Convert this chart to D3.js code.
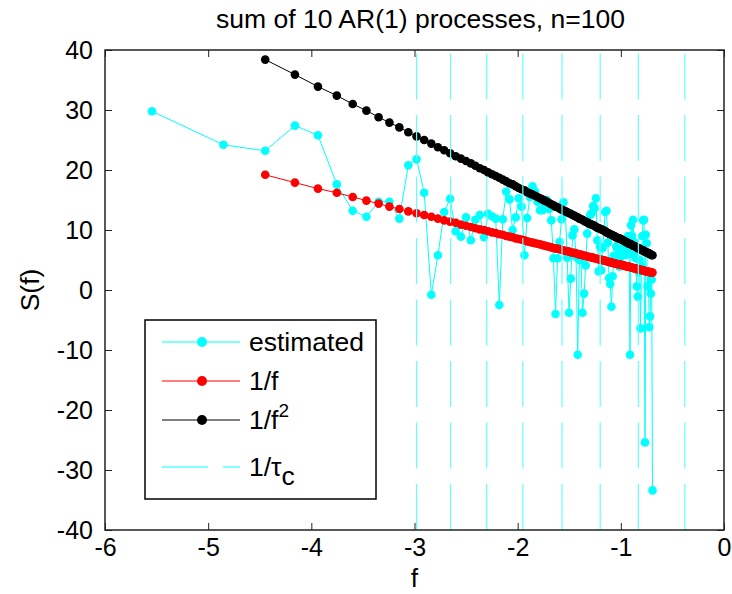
<!DOCTYPE html>
<html>
<head>
<meta charset="utf-8">
<script src="https://cdn.jsdelivr.net/npm/d3@7"></script>
<style>
  body { margin: 0; background: #fff; }
  text { font-family: "Liberation Sans", Arial, Helvetica, sans-serif; }
</style>
</head>
<body>
<div id="chart-area"></div>
<script>
// log frequency, k = 1..128
var freq = [-5.545,-4.852,-4.447,-4.159,-3.936,-3.753,-3.599,-3.466,-3.348,-3.243,
  -3.147,-3.060,-2.980,-2.906,-2.837,-2.773,-2.712,-2.655,-2.601,-2.550,
  -2.501,-2.454,-2.410,-2.367,-2.326,-2.287,-2.249,-2.213,-2.178,-2.144,
  -2.111,-2.079,-2.049,-2.019,-1.990,-1.962,-1.934,-1.908,-1.882,-1.856,
  -1.832,-1.808,-1.784,-1.761,-1.739,-1.717,-1.695,-1.674,-1.653,-1.633,
  -1.613,-1.594,-1.575,-1.556,-1.538,-1.520,-1.502,-1.485,-1.468,-1.451,
  -1.434,-1.418,-1.402,-1.386,-1.371,-1.356,-1.341,-1.326,-1.311,-1.297,
  -1.283,-1.269,-1.255,-1.241,-1.228,-1.215,-1.201,-1.189,-1.176,-1.163,
  -1.151,-1.139,-1.126,-1.114,-1.103,-1.091,-1.079,-1.068,-1.057,-1.045,
  -1.034,-1.023,-1.013,-1.002,-0.991,-0.981,-0.971,-0.960,-0.950,-0.940,
  -0.930,-0.920,-0.911,-0.901,-0.891,-0.882,-0.872,-0.863,-0.854,-0.845,
  -0.836,-0.827,-0.818,-0.809,-0.800,-0.792,-0.783,-0.775,-0.766,-0.758,
  -0.749,-0.741,-0.733,-0.725,-0.717,-0.709,-0.701,-0.693];

// estimated spectrum (all 128 points)
var estimated = [29.8,24.2,23.2,27.4,25.8,17.6,13.2,12.2,14.7,14.7,
  11.9,20.8,21.8,16.2,-0.8,5.8,13.0,15.2,9.8,8.9,
  12.1,8.3,11.7,12.5,8.8,12.7,12.3,11.9,-2.5,11.8,
  16.4,15.1,10.0,12.1,15.3,13.9,5.8,12.0,15.5,17.3,
  16.4,14.7,13.3,13.3,14.5,15.0,13.5,11.6,5.3,-4.0,
  5.3,8.0,11.8,14.6,13.0,5.4,-3.8,1.9,9.1,10.1,
  5.5,-10.8,5.0,5.0,-3.8,-0.6,4.1,9.4,11.0,12.5,
  12.8,14.0,13.6,15.3,8.3,3.1,7.2,3.3,7.0,10.0,
  13.0,13.2,7.9,2.0,1.0,-2.8,2.3,5.7,9.0,7.2,
  7.0,6.0,3.9,5.5,4.2,7.0,6.0,5.8,8.0,7.0,
  9.0,6.0,-10.8,10.8,9.0,11.7,8.0,6.0,5.3,0.6,
  -1.1,3.0,5.0,-6.4,4.0,9.0,11.6,11.7,-25.4,9.2,
  7.8,0.6,3.0,-6.2,-4.4,-0.6,1.7,-33.4];

// 1/f (from k = 3)
var invF = [19.2,17.9,16.9,16.2,15.5,14.9,14.4,13.9,13.5,13.1,
  12.8,12.5,12.2,11.9,11.6,11.4,11.2,10.9,10.7,10.5,
  10.3,10.1,10.0,9.8,9.6,9.5,9.3,9.2,9.0,8.9,
  8.8,8.6,8.5,8.4,8.3,8.1,8.0,7.9,7.8,7.7,
  7.6,7.5,7.4,7.3,7.2,7.1,7.0,6.9,6.9,6.8,
  6.7,6.6,6.5,6.5,6.4,6.3,6.2,6.2,6.1,6.0,
  5.9,5.9,5.8,5.7,5.7,5.6,5.5,5.5,5.4,5.4,
  5.3,5.2,5.2,5.1,5.1,5.0,5.0,4.9,4.9,4.8,
  4.7,4.7,4.6,4.6,4.5,4.5,4.4,4.4,4.3,4.3,
  4.3,4.2,4.2,4.1,4.1,4.0,4.0,3.9,3.9,3.9,
  3.8,3.8,3.7,3.7,3.6,3.6,3.6,3.5,3.5,3.4,
  3.4,3.4,3.3,3.3,3.3,3.2,3.2,3.1,3.1,3.1,
  3.0,3.0,3.0,2.9,2.9,2.9];

// 1/f^2 (from k = 3)
var invF2 = [38.4,35.9,33.9,32.4,31.0,29.9,28.8,27.9,27.1,26.3,
  25.6,25.0,24.4,23.8,23.3,22.8,22.3,21.9,21.5,21.1,
  20.7,20.3,20.0,19.6,19.3,19.0,18.7,18.4,18.1,17.8,
  17.6,17.3,17.0,16.8,16.6,16.3,16.1,15.9,15.7,15.5,
  15.3,15.1,14.9,14.7,14.5,14.3,14.1,13.9,13.8,13.6,
  13.4,13.3,13.1,13.0,12.8,12.7,12.5,12.4,12.2,12.1,
  11.9,11.8,11.7,11.5,11.4,11.3,11.1,11.0,10.9,10.8,
  10.7,10.5,10.4,10.3,10.2,10.1,10.0,9.9,9.8,9.6,
  9.5,9.4,9.3,9.2,9.1,9.0,8.9,8.8,8.7,8.6,
  8.6,8.5,8.4,8.3,8.2,8.1,8.0,7.9,7.8,7.7,
  7.7,7.6,7.5,7.4,7.3,7.3,7.2,7.1,7.0,6.9,
  6.9,6.8,6.7,6.6,6.6,6.5,6.4,6.3,6.3,6.2,
  6.1,6.1,6.0,5.9,5.8,5.8];

// 1/tau_c lines
var tauLines = [-2.98,-2.65,-2.30,-1.95,-1.57,-1.20,-0.83,-0.38];

var xTicks = [-6,-5,-4,-3,-2,-1,0];
var yTicks = [-40,-30,-20,-10,0,10,20,30,40];

var legendItems = ["estimated", "1/f", "1/f2", "1/tau"];

var W = 732, H = 594;
var margin = {top: 50, right: 8, bottom: 64, left: 105},
    width = W - margin.left - margin.right,
    height = H - margin.top - margin.bottom;

var svg = d3.select("#chart-area").append("svg")
    .attr("width", W)
    .attr("height", H);

var g = svg.append("g")
    .attr("transform", "translate(" + margin.left + "," + margin.top + ")");

var x = d3.scaleLinear().domain([-6, 0]).range([0, width]);
var y = d3.scaleLinear().domain([-40, 40]).range([height, 0]);

var fmt = function(d){ return String(d); };
var tickFont = 25;
var textFont = 26.5;

// axes, ticks point inwards like matlab
var xAxis = g.append("g")
    .attr("transform", "translate(0," + height + ")")
    .call(d3.axisBottom(x).tickValues(xTicks).tickFormat(fmt).tickSizeInner(-7).tickSizeOuter(0).tickPadding(8));
var xAxisTop = g.append("g")
    .call(d3.axisTop(x).tickValues(xTicks).tickFormat("").tickSizeInner(-7).tickSizeOuter(0));
var yAxis = g.append("g")
    .call(d3.axisLeft(y).tickValues(yTicks).tickFormat(fmt).tickSizeInner(-7).tickSizeOuter(0).tickPadding(12));
var yAxisRight = g.append("g")
    .attr("transform", "translate(" + width + ",0)")
    .call(d3.axisRight(y).tickValues(yTicks).tickFormat("").tickSizeInner(-7).tickSizeOuter(0));

g.selectAll(".domain").remove();
g.selectAll(".tick line").attr("stroke", "#222");
g.selectAll(".tick text")
    .attr("font-size", tickFont)
    .attr("fill", "#000")
    .attr("font-family", "'Liberation Sans', Arial, sans-serif");

var line = d3.line()
    .x(function(d){ return x(d[0]); })
    .y(function(d){ return y(d[1]); });

var estData = freq.map(function(f, i){ return [f, estimated[i]]; });
var fData = freq.slice(2).map(function(f, i){ return [f, invF[i]]; });
var f2Data = freq.slice(2).map(function(f, i){ return [f, invF2[i]]; });

var series = [
    {data: estData, color: "#00ffff"},
    {data: fData, color: "#ff0000"},
    {data: f2Data, color: "#000000"}
];

series.forEach(function(s){
    g.append("path")
        .datum(s.data)
        .attr("fill", "none")
        .attr("stroke", s.color)
        .attr("stroke-width", 1)
        .attr("d", line);
    g.append("g").selectAll("circle")
        .data(s.data)
        .enter()
        .append("circle")
        .attr("cx", function(d){ return x(d[0]); })
        .attr("cy", function(d){ return y(d[1]); })
        .attr("r", 4.3)
        .attr("fill", s.color);
});

// dashed 1/tau_c lines, drawn bottom to top
g.append("g").selectAll("line")
    .data(tauLines)
    .enter()
    .append("line")
    .attr("x1", function(d){ return x(d); })
    .attr("x2", function(d){ return x(d); })
    .attr("y1", y(-40))
    .attr("y2", y(40))
    .attr("stroke", "#66ffff")
    .attr("stroke-width", 1.2)
    .attr("stroke-dasharray", "46,15.5");

// frame
g.append("rect")
    .attr("width", width)
    .attr("height", height)
    .attr("fill", "none")
    .attr("stroke", "#222")
    .attr("stroke-width", 1.5);

// title and labels
svg.append("text")
    .attr("x", margin.left + width / 2 + 6)
    .attr("y", 28)
    .attr("text-anchor", "middle")
    .attr("font-size", textFont)
    .text("sum of 10 AR(1) processes, n=100");

svg.append("text")
    .attr("x", margin.left + width / 2)
    .attr("y", 587)
    .attr("text-anchor", "middle")
    .attr("font-size", textFont)
    .text("f");

svg.append("text")
    .attr("transform", "translate(39," + (margin.top + height / 2) + ") rotate(-90)")
    .attr("text-anchor", "middle")
    .attr("font-size", textFont)
    .text("S(f)");

// legend
var legend = svg.append("g")
    .attr("transform", "translate(145,320)");

legend.append("rect")
    .attr("width", 231)
    .attr("height", 179)
    .attr("fill", "#fff")
    .attr("stroke", "#000")
    .attr("stroke-width", 1.5);

var rowY = [22, 61, 100, 147];
var rowColor = ["#00ffff", "#ff0000", "#000000", "#00ffff"];

var legendRow = legend.selectAll(".legend-row")
    .data(legendItems)
    .enter()
    .append("g")
    .attr("class", "legend-row")
    .attr("transform", function(d, i){ return "translate(0," + rowY[i] + ")"; });

legendRow.append("line")
    .attr("x1", 17)
    .attr("x2", 95)
    .attr("stroke", function(d, i){ return rowColor[i]; })
    .attr("stroke-width", 1)
    .attr("stroke-dasharray", function(d, i){ return i === 3 ? "46,15" : null; });

legendRow.filter(function(d, i){ return i < 3; })
    .append("circle")
    .attr("cx", 57)
    .attr("r", 5)
    .attr("fill", function(d, i){ return rowColor[i]; });

var legendText = legendRow.append("text")
    .attr("x", 104)
    .attr("y", 9)
    .attr("font-size", textFont);

legendText.each(function(d, i){
    var t = d3.select(this);
    if (i === 2) {
        t.append("tspan").text("1/f");
        t.append("tspan").attr("dy", -12).attr("font-size", 19).text("2");
    } else if (i === 3) {
        t.append("tspan").text("1/\u03c4");
        t.append("tspan").attr("dy", 9).attr("font-size", textFont).text("c");
    } else {
        t.text(d);
    }
});
</script>
</body>
</html>
